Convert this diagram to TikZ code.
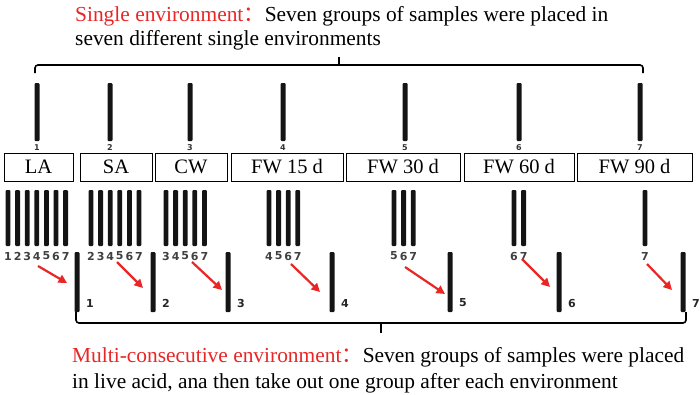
\documentclass[tikz,border=0pt]{standalone}
\usepackage{fontspec}
\setmainfont{Liberation Serif}
\newfontfamily\cjk{Noto Sans CJK SC}
\newfontfamily\digitfont{DejaVu Sans}
\usepackage{xcolor}
\usetikzlibrary{arrows.meta}

\definecolor{envred}{RGB}{232,38,38}
\newcommand{\maintext}{\fontsize{21.4}{24}\selectfont}
\newcommand{\boxtext}{\fontsize{20.5}{24}\selectfont}

\tikzset{
  envbox/.style={draw, line width=0.8pt, minimum height=28pt, inner sep=0pt, font=\boxtext},
  tube/.style={fill=black!92, rounded corners=1pt},
  topnum/.style={font=\digitfont\bfseries\fontsize{8}{8}\selectfont, text=black!80, inner sep=0pt},
  tubenum/.style={font=\digitfont\bfseries\fontsize{11}{11}\selectfont, text=black!75, inner sep=0pt},
  outnum/.style={font=\digitfont\bfseries\fontsize{11}{11}\selectfont, text=black!85, inner sep=0pt},
  moveto/.style={draw=envred, line width=2.2pt, -{Triangle[length=8.5pt,width=8.5pt]}},
  brace/.style={line width=1.6pt, rounded corners=3pt}
}

\begin{document}
\begin{tikzpicture}[x=1pt,y=-1pt]
\useasboundingbox (0,0) rectangle (700,394);

% single environment text
\node[anchor=base west, inner sep=0pt, font=\maintext] (single1) at (75,21)
  {\textcolor{envred}{Single environment\cjk{：}}Seven groups of samples were placed in};
\node[anchor=base west, inner sep=0pt, font=\maintext] (single2) at (75,45)
  {seven different single environments};

% top brace
\draw[brace] (35,73) -- (35,65) -- (643,65) -- (643,73);
\draw[brace] (339,65) -- (339,57);

% one group per environment
\foreach \i/\x in {1/37,2/110,3/190,4/283,5/405,6/519,7/640}
{
  \fill[tube] (\x-2.5,83) rectangle (\x+2.5,141);
  \node[topnum] (top\i) at (\x,148) {\i};
}

% environments
\foreach \name/\x/\w/\txt in {la/38.5/69/LA, sa/116/72/SA, cw/191/72/CW,
  fwa/287/112/FW 15 d, fwb/403/114/FW 30 d, fwc/519/110/FW 60 d, fwd/634.5/115/FW 90 d}
  \node[envbox, minimum width=\w*1pt] (\name) at (\x,167) {\txt};

% groups left in each environment
\foreach \k/\x in {1/8,2/91,3/166,4/269,5/394,6/514,7/645}
{
  \foreach \j in {\k,...,7}
  {
    \pgfmathsetmacro\bx{\x+(\j-\k)*9.6}
    \fill[tube] (\bx-2.4,190) rectangle (\bx+2.4,246);
    \node[tubenum] (g\k-\j) at (\bx,256) {\j};
  }
}

% group taken out after each environment
\foreach \i/\x/\sx/\sy/\ex/\ey in {1/77/38/266/67/283, 2/153/117/262/143/288,
  3/228/192/262/222/290, 4/332/291/264/320/292, 5/450/405/267/445/294,
  6/559/522/259/550/287, 7/683/647/264/672/290}
{
  \fill[tube] (\x-2.5,252) rectangle (\x+2.5,312);
  \node[outnum, anchor=west] (out\i) at (\x+9,303) {\i};
  \coordinate (from\i) at (\sx,\sy);
  \coordinate (to\i) at (\ex,\ey);
  \draw[moveto] (from\i) -- (to\i);
}

% bottom brace
\draw[brace] (76,312) -- (76,323) -- (686,323) -- (686,312);
\draw[brace] (381,323) -- (381,333);

% multi-consecutive environment text
\node[anchor=base west, inner sep=0pt, font=\maintext] (multi1) at (72,362)
  {\textcolor{envred}{Multi-consecutive environment\cjk{：}}Seven groups of samples were placed};
\node[anchor=base west, inner sep=0pt, font=\maintext] (multi2) at (72,388)
  {in live acid, ana then take out one group after each environment};
\end{tikzpicture}
\end{document}
